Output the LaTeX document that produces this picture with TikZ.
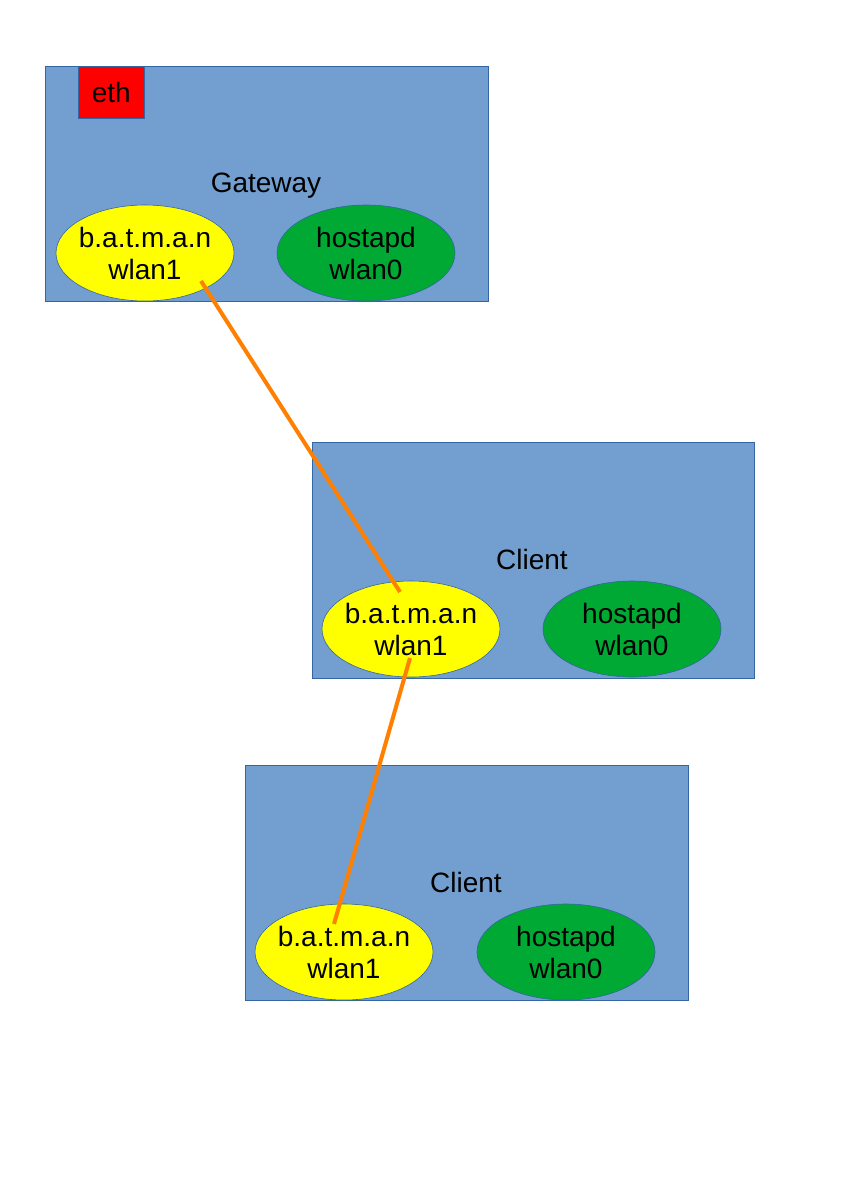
\documentclass[tikz,border=0pt]{standalone}
\usepackage{fontspec}
\setmainfont{Liberation Sans}
\usetikzlibrary{shapes.geometric}
\definecolor{boxfill}{HTML}{729FCF}
\definecolor{boxline}{HTML}{3465A4}
\definecolor{batyellow}{HTML}{FFFF00}
\definecolor{apgreen}{HTML}{00A933}
\definecolor{ethred}{HTML}{FF0000}
\definecolor{linkorange}{HTML}{FF8000}
\tikzset{
  host/.style={draw=boxline, fill=boxfill, line width=0.8pt},
  iface/.style={ellipse, draw=boxline, line width=0.6pt, minimum width=178pt,
    minimum height=96pt, inner xsep=-12pt, inner ysep=0pt, align=center,
    font=\fontsize{28}{32}\selectfont},
  batman/.style={iface, fill=batyellow},
  hostapd/.style={iface, fill=apgreen},
  title/.style={font=\fontsize{28}{32}\selectfont},
  link/.style={draw=linkorange, line width=4pt},
}
\begin{document}
\begin{tikzpicture}[x=1pt, y=-1pt]
  \useasboundingbox (0,0) rectangle (843,1192);

  % gateway
  \node[host, minimum width=443pt, minimum height=235pt, inner sep=0pt, anchor=north west] (gw) at (45,66) {};
  \node[draw=boxline, fill=ethred, line width=0.6pt, minimum width=66pt, minimum height=52pt, inner sep=0pt, anchor=north west, font=\fontsize{28}{32}\selectfont] (eth) at (78,66) {eth};
  \node[title] (gwt) at (266,186) {Gateway};
  \node[batman] (gwb) at (145,253) {b.a.t.m.a.n\\wlan1};
  \node[hostapd] (gwh) at (366,253) {hostapd\\wlan0};

  % first client
  \node[host, minimum width=442pt, minimum height=236pt, inner sep=0pt, anchor=north west] (c1) at (312,442) {};
  \node[title] (c1t) at (532,559) {Client};
  \node[batman] (c1b) at (411,629) {b.a.t.m.a.n\\wlan1};
  \node[hostapd] (c1h) at (632,629) {hostapd\\wlan0};

  % second client
  \node[host, minimum width=443pt, minimum height=235pt, inner sep=0pt, anchor=north west] (c2) at (245,765) {};
  \node[title] (c2t) at (466,882) {Client};
  \node[batman] (c2b) at (344,952) {b.a.t.m.a.n\\wlan1};
  \node[hostapd] (c2h) at (566,952) {hostapd\\wlan0};

  % mesh links between the batman interfaces
  \coordinate (l1a) at ([shift={(56pt,-28pt)}]gwb.center);
  \coordinate (l1b) at ([shift={(-11pt,37pt)}]c1b.center);
  \coordinate (l2a) at ([shift={(-1pt,-29pt)}]c1b.center);
  \coordinate (l2b) at ([shift={(-10pt,28pt)}]c2b.center);
  \draw[link] (l1a) -- (l1b);
  \draw[link] (l2a) -- (l2b);
\end{tikzpicture}
\end{document}
